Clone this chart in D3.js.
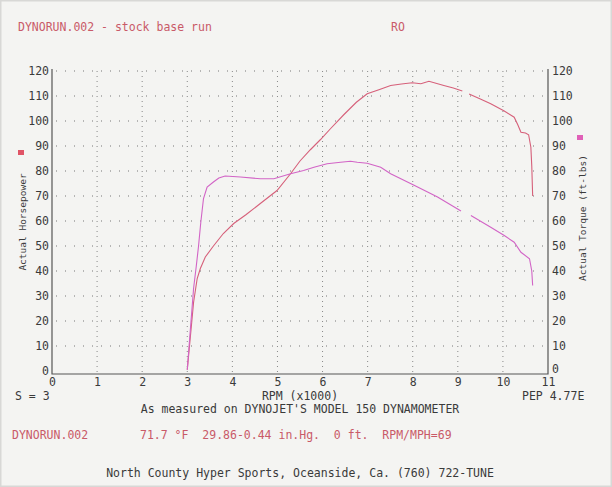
<!DOCTYPE html>
<html>
<head>
<meta charset="utf-8">
<script src="https://cdn.jsdelivr.net/npm/d3@7"></script>
<style>
  body { margin: 0; background: #f4f4f2; }
  text { font-family: "DejaVu Sans Mono", monospace; white-space: pre; }
</style>
</head>
<body>
<script>
// dyno sheet data
var hpRpm = [3.00, 3.07, 3.14, 3.22, 3.29, 3.40, 3.58, 3.80, 4.03, 4.30, 4.62, 4.99, 5.29, 5.50, 5.73, 5.95, 6.18, 6.47, 6.75, 6.99, 7.25, 7.51, 7.75, 7.99, 8.18, 8.36, 8.69, 8.90, 9.10, null,
             9.25, 9.50, 9.73, 10.03, 10.25, 10.33, 10.40, 10.50, 10.57, 10.62, 10.64, 10.66];
var hpVal = [0.5, 14, 27.5, 37, 41, 45.6, 50, 55, 59, 62.5, 67, 72.2, 78.9, 84, 88.5, 92.5, 97, 102.5, 107.5, 110.9, 112.5, 114.2, 114.8, 115.3, 114.9, 115.9, 114.2, 113.2, 112, null,
             110.8, 108.8, 106.9, 104, 101.5, 98.5, 95.5, 95.2, 94.5, 89.5, 82, 70];

var tqRpm = [3.00, 3.07, 3.14, 3.20, 3.25, 3.30, 3.36, 3.44, 3.58, 3.70, 3.84, 4.18, 4.62, 4.92, 5.29, 5.58, 5.81, 6.10, 6.40, 6.62, 6.77, 6.99, 7.29, 7.51, 8.03, 8.55, 9.07, null,
             9.29, 9.73, 10.03, 10.25, 10.40, 10.59, 10.64, 10.66];
var tqVal = [0.5, 17, 33, 42, 50, 59.5, 69, 73.6, 75.6, 77.2, 78, 77.6, 76.9, 76.9, 78.9, 80.2, 81.5, 82.9, 83.5, 83.9, 83.5, 83.1, 81.5, 78.9, 74.3, 69.6, 64, null,
             62.2, 57.5, 54.2, 51.5, 47.5, 44.9, 40, 34.2];

var xTicks = [0, 1, 2, 3, 4, 5, 6, 7, 8, 9, 10, 11];
var yTicks = [0, 10, 20, 30, 40, 50, 60, 70, 80, 90, 100, 110, 120];

var width = 612, height = 487;
var red = "#c95a68", hpColor = "#d6607a", tqColor = "#d264c6", ink = "#3a3a3a";

var svg = d3.select("body").append("svg")
    .attr("width", width)
    .attr("height", height);

svg.append("rect")
    .attr("width", width).attr("height", height)
    .attr("fill", "#f4f4f2")
    .attr("stroke", "#d8d8d6").attr("stroke-width", 3);

var x = d3.scaleLinear().domain([0, 11]).range([52, 548]);
var y = d3.scaleLinear().domain([0, 120]).range([371, 71]);

// dotted grid
svg.append("g").selectAll("line")
    .data(yTicks.slice(1))
    .enter().append("line")
    .attr("x1", x(0) + 4).attr("x2", x(11))
    .attr("y1", function(d) { return y(d); })
    .attr("y2", function(d) { return y(d); })
    .attr("stroke", "#777").attr("stroke-width", 1)
    .attr("stroke-dasharray", "1,8");

svg.append("g").selectAll("line")
    .data(xTicks.slice(1, 11))
    .enter().append("line")
    .attr("x1", function(d) { return x(d); })
    .attr("x2", function(d) { return x(d); })
    .attr("y1", y(120)).attr("y2", 374)
    .attr("stroke", "#888").attr("stroke-width", 1)
    .attr("stroke-dasharray", "1,4");

// frame: left, bottom, right
svg.append("path")
    .attr("d", "M" + x(0) + "," + (y(120) - 2) + "V374H" + x(11) + "V" + (y(120) - 2))
    .attr("fill", "none").attr("stroke", "#555").attr("stroke-width", 1.2);

// axis labels via d3 axes
var leftAxis = svg.append("g")
    .attr("transform", "translate(" + (x(0) - 3) + ",0)")
    .call(d3.axisLeft(y).tickValues(yTicks).tickSize(0).tickPadding(0));
var rightAxis = svg.append("g")
    .attr("transform", "translate(" + (x(11) + 4) + ",0)")
    .call(d3.axisRight(y).tickValues(yTicks).tickSize(0).tickPadding(0));
var bottomAxis = svg.append("g")
    .attr("transform", "translate(0,377)")
    .call(d3.axisBottom(x).tickValues(xTicks).tickSize(0).tickPadding(0));

[leftAxis, rightAxis, bottomAxis].forEach(function(a) {
  a.select(".domain").remove();
  a.selectAll("text")
      .style("font-family", "DejaVu Sans Mono, monospace")
      .style("font-size", "11.5px")
      .attr("fill", ink);
});
bottomAxis.selectAll("text").attr("dy", "0.75em");
// right "0" sits just above the bottom "11"
rightAxis.selectAll("text").filter(function(d) { return d === 0; }).attr("dy", "0.1em");

// curves
var line = d3.line()
    .defined(function(d) { return d[0] != null; })
    .x(function(d) { return x(d[0]); })
    .y(function(d) { return y(d[1]); });

svg.append("path")
    .datum(hpRpm.map(function(r, i) { return [r, hpVal[i]]; }))
    .attr("d", line)
    .attr("fill", "none").attr("stroke", hpColor).attr("stroke-width", 1.1);

svg.append("path")
    .datum(tqRpm.map(function(r, i) { return [r, tqVal[i]]; }))
    .attr("d", line)
    .attr("fill", "none").attr("stroke", tqColor).attr("stroke-width", 1.1);

// legend squares
svg.append("rect").attr("x", 18).attr("y", 150).attr("width", 6).attr("height", 5).attr("fill", "#e05466");
svg.append("rect").attr("x", 577).attr("y", 135).attr("width", 6).attr("height", 5).attr("fill", "#e060b8");

// axis titles
svg.append("text")
    .attr("transform", "translate(26,222) rotate(-90)")
    .attr("text-anchor", "middle")
    .style("font-size", "9.5px")
    .attr("fill", ink)
    .text("Actual Horsepower");

svg.append("text")
    .attr("transform", "translate(586,218) rotate(-90)")
    .attr("text-anchor", "middle")
    .style("font-size", "9.5px")
    .attr("fill", ink)
    .text("Actual Torque (ft-lbs)");

// header and footer text
function label(tx, ty, str, color, anchor) {
  svg.append("text")
      .attr("x", tx).attr("y", ty)
      .attr("text-anchor", anchor || "start")
      .attr("xml:space", "preserve")
      .style("font-size", "11.5px")
      .attr("fill", color)
      .text(str);
}

label(18, 31, "DYNORUN.002 - stock base run", red);
label(391, 31, "RO", red);
label(15, 400, "S = 3", ink);
label(300, 400, "RPM (x1000)", ink, "middle");
label(522, 400, "PEP 4.77E", ink);
label(300, 413, "As measured on DYNOJET'S MODEL 150 DYNAMOMETER", ink, "middle");
label(12, 439, "DYNORUN.002", red);
label(140, 439, "71.7 \u00b0F  29.86-0.44 in.Hg.  0 ft.  RPM/MPH=69", red);
label(300, 477, "North County Hyper Sports, Oceanside, Ca. (760) 722-TUNE", ink, "middle");
</script>
</body>
</html>
